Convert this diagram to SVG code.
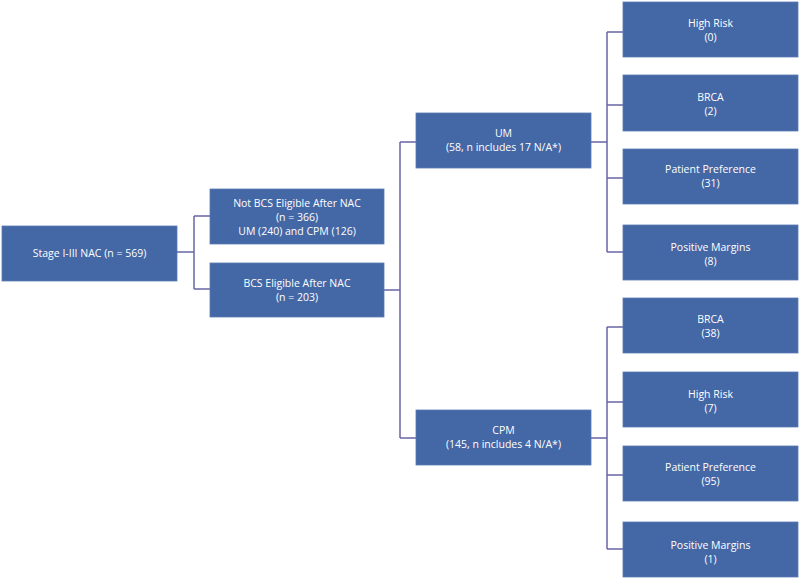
<svg xmlns="http://www.w3.org/2000/svg" width="800" height="579" viewBox="0 0 800 579">
<style>
.box{fill:#4467a6;stroke:#5a7bb5;stroke-width:0.8}
.t{font-family:"Open Sans","Liberation Sans",sans-serif;font-size:10.5px;fill:#ffffff;text-anchor:middle}
.c{fill:none;stroke:#6866a6;stroke-width:1.5}
</style>
<rect width="800" height="579" fill="#ffffff"/>
<g id="connectors">
<path class="c" d="M177,252 H194 M194,216 V289 M194,216 H210 M194,289 H210"/>
<path class="c" d="M384,290 H400 M400,142 V438 M400,142 H416 M400,438 H416"/>
<path class="c" d="M591,142 H607 M607,32 V252 M607,32 H623 M607,105 H623 M607,178 H623 M607,252 H623"/>
<path class="c" d="M591,438 H607 M607,327 V549 M607,327 H623 M607,402 H623 M607,475 H623 M607,549 H623"/>
</g>
<g id="root"><rect class="box" x="2" y="226" width="175" height="55"/><text class="t" x="89.5" y="257">Stage I-III NAC (n = 569)</text></g>
<g id="notbcs"><rect class="box" x="210" y="189" width="174" height="55"/><text class="t" x="297" y="207">Not BCS Eligible After NAC</text><text class="t" x="297" y="221">(n = 366)</text><text class="t" x="297" y="235">UM (240) and CPM (126)</text></g>
<g id="bcs"><rect class="box" x="210" y="263" width="174" height="54"/><text class="t" x="297" y="287">BCS Eligible After NAC</text><text class="t" x="297" y="301">(n = 203)</text></g>
<g id="um"><rect class="box" x="416" y="113" width="175" height="55"/><text class="t" x="503.5" y="137">UM</text><text class="t" x="503.5" y="151">(58, n includes 17 N/A*)</text></g>
<g id="cpm"><rect class="box" x="416" y="410" width="175" height="55"/><text class="t" x="503.5" y="434">CPM</text><text class="t" x="503.5" y="448">(145, n includes 4 N/A*)</text></g>
<g id="um-highrisk"><rect class="box" x="623" y="2" width="175" height="55"/><text class="t" x="710.5" y="27">High Risk</text><text class="t" x="710.5" y="41">(0)</text></g>
<g id="um-brca"><rect class="box" x="623" y="75" width="175" height="56"/><text class="t" x="710.5" y="101">BRCA</text><text class="t" x="710.5" y="115">(2)</text></g>
<g id="um-pref"><rect class="box" x="623" y="149" width="175" height="55"/><text class="t" x="710.5" y="173">Patient Preference</text><text class="t" x="710.5" y="187">(31)</text></g>
<g id="um-margins"><rect class="box" x="623" y="225" width="175" height="55"/><text class="t" x="710.5" y="251">Positive Margins</text><text class="t" x="710.5" y="265">(8)</text></g>
<g id="cpm-brca"><rect class="box" x="623" y="298" width="175" height="55"/><text class="t" x="710.5" y="323">BRCA</text><text class="t" x="710.5" y="337">(38)</text></g>
<g id="cpm-highrisk"><rect class="box" x="623" y="372" width="175" height="55"/><text class="t" x="710.5" y="398">High Risk</text><text class="t" x="710.5" y="412">(7)</text></g>
<g id="cpm-pref"><rect class="box" x="623" y="446" width="175" height="55"/><text class="t" x="710.5" y="471">Patient Preference</text><text class="t" x="710.5" y="485">(95)</text></g>
<g id="cpm-margins"><rect class="box" x="623" y="522" width="175" height="55"/><text class="t" x="710.5" y="549">Positive Margins</text><text class="t" x="710.5" y="563">(1)</text></g>
</svg>
